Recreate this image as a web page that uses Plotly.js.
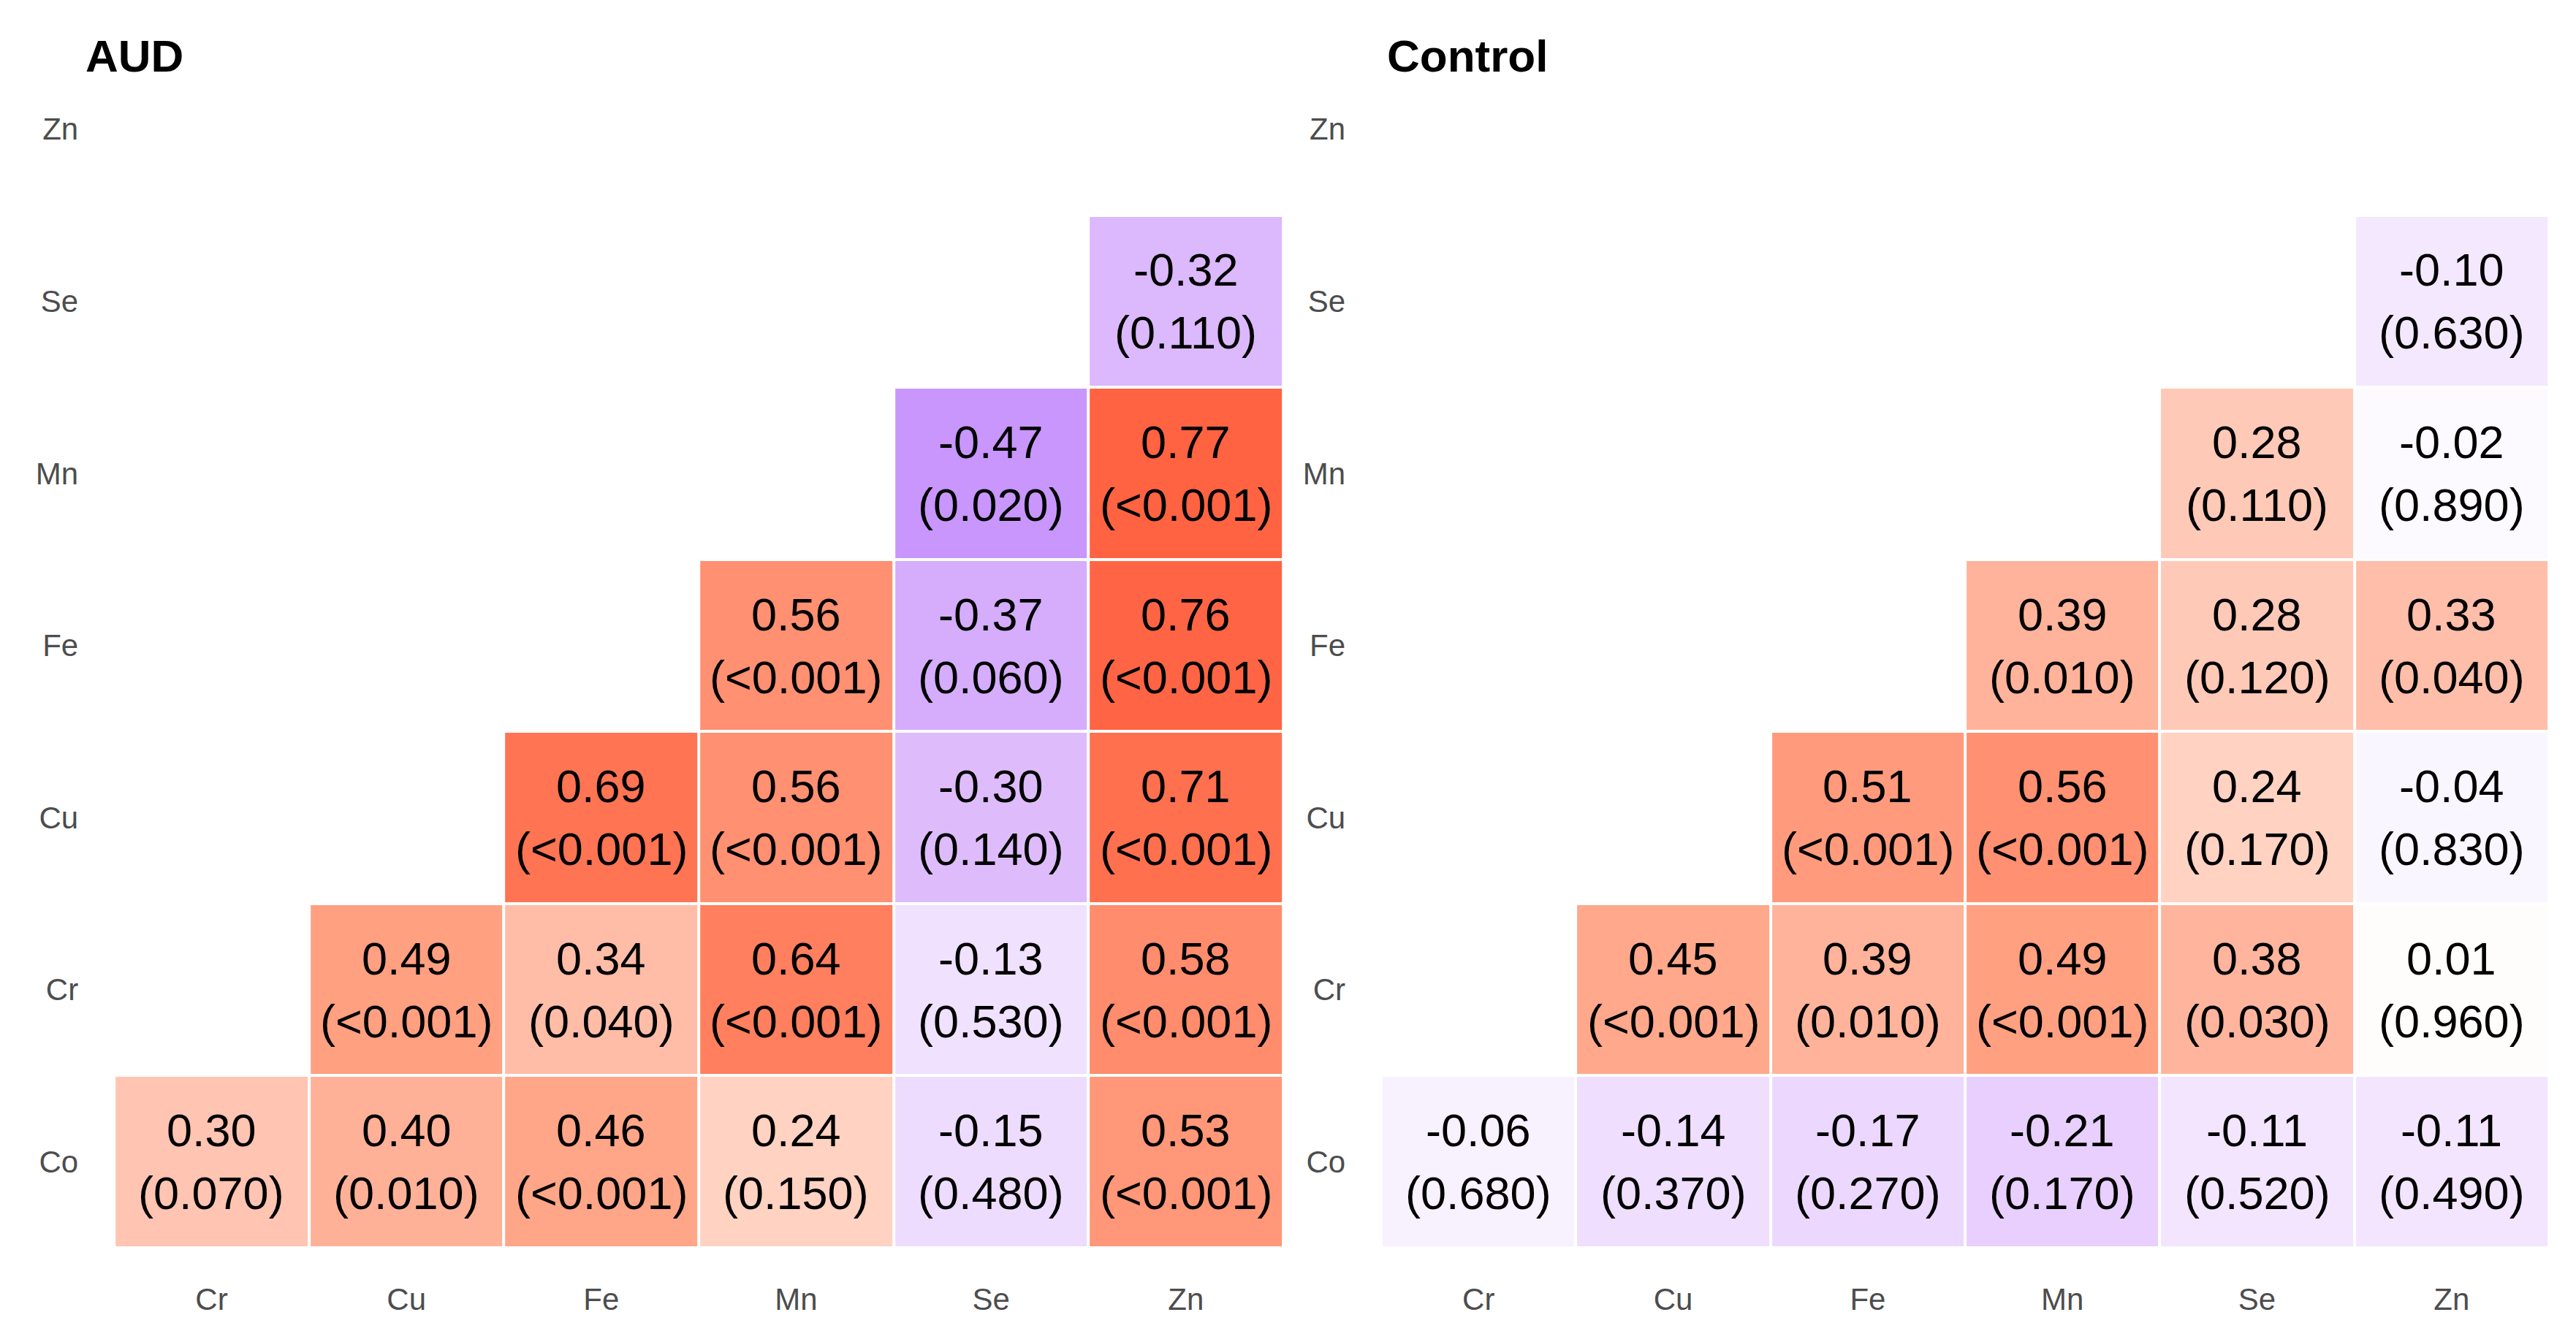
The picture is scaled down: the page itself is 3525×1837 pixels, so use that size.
<!DOCTYPE html>
<html>
<head>
<meta charset="utf-8">
<script src="https://cdn.plot.ly/plotly-3.0.1.min.js"></script>
<style>
  html, body { margin: 0; padding: 0; background: #ffffff; }
  #chart { width: 3525px; height: 1837px; }
</style>
</head>
<body>
<div id="chart"></div>
<script>
// ---- Data ----
const colLabels = ['Cr', 'Cu', 'Fe', 'Mn', 'Se', 'Zn'];
const rowLabels = ['Co', 'Cr', 'Cu', 'Fe', 'Mn', 'Se', 'Zn'];

const audR = [
  [0.30, 0.40, 0.46, 0.24, -0.15, 0.53],
  [null, 0.49, 0.34, 0.64, -0.13, 0.58],
  [null, null, 0.69, 0.56, -0.30, 0.71],
  [null, null, null, 0.56, -0.37, 0.76],
  [null, null, null, null, -0.47, 0.77],
  [null, null, null, null, null, -0.32],
  [null, null, null, null, null, null]
];
const audP = [
  ['0.070', '0.010', '<0.001', '0.150', '0.480', '<0.001'],
  [null, '<0.001', '0.040', '<0.001', '0.530', '<0.001'],
  [null, null, '<0.001', '<0.001', '0.140', '<0.001'],
  [null, null, null, '<0.001', '0.060', '<0.001'],
  [null, null, null, null, '0.020', '<0.001'],
  [null, null, null, null, null, '0.110'],
  [null, null, null, null, null, null]
];

const ctrlR = [
  [-0.06, -0.14, -0.17, -0.21, -0.11, -0.11],
  [null, 0.45, 0.39, 0.49, 0.38, 0.01],
  [null, null, 0.51, 0.56, 0.24, -0.04],
  [null, null, null, 0.39, 0.28, 0.33],
  [null, null, null, null, 0.28, -0.02],
  [null, null, null, null, null, -0.10],
  [null, null, null, null, null, null]
];
const ctrlP = [
  ['0.680', '0.370', '0.270', '0.170', '0.520', '0.490'],
  [null, '<0.001', '0.010', '<0.001', '0.030', '0.960'],
  [null, null, '<0.001', '<0.001', '0.170', '0.830'],
  [null, null, null, '0.010', '0.120', '0.040'],
  [null, null, null, null, '0.110', '0.890'],
  [null, null, null, null, null, '0.630'],
  [null, null, null, null, null, null]
];

const panelTitles = ['AUD', 'Control'];

// ---- Style ----
const FONT = 'Liberation Sans, Arial, sans-serif';
const colorscale = [
  [0.000, '#8C2CF5'],
  [0.265, '#C896FC'],
  [0.340, '#DCB8FC'],
  [0.425, '#EEDCFE'],
  [0.500, '#FFFFFF'],
  [0.620, '#FFD2C2'],
  [0.650, '#FFC4B2'],
  [0.730, '#FFA688'],
  [0.820, '#FF7F5E'],
  [0.885, '#FF6342'],
  [1.000, '#FF3A10']
];

function heat(z, xa, ya) {
  return {
    type: 'heatmap',
    x: colLabels, y: rowLabels, z: z,
    xaxis: xa, yaxis: ya,
    zmin: -1, zmax: 1,
    colorscale: colorscale,
    showscale: false,
    xgap: 4, ygap: 4,
    hoverongaps: false
  };
}

const annotations = [];
function cellText(R, P, xref, yref) {
  for (let i = 0; i < rowLabels.length; i++) {
    for (let j = 0; j < colLabels.length; j++) {
      if (R[i][j] === null) continue;
      annotations.push({
        xref: xref, yref: yref, x: colLabels[j], y: rowLabels[i],
        text: R[i][j].toFixed(2), showarrow: false,
        xanchor: 'center', yanchor: 'middle', yshift: 43,
        font: { family: FONT, size: 63, color: '#000000' }
      });
      annotations.push({
        xref: xref, yref: yref, x: colLabels[j], y: rowLabels[i],
        text: '(' + P[i][j] + ')', showarrow: false,
        xanchor: 'center', yanchor: 'middle', yshift: -43,
        font: { family: FONT, size: 63, color: '#000000' }
      });
    }
  }
}
cellText(audR, audP, 'x', 'y');
cellText(ctrlR, ctrlP, 'x2', 'y2');

const titleX = [0.0326, 0.538];
panelTitles.forEach((t, k) => {
  annotations.push({
    xref: 'paper', yref: 'paper', x: titleX[k], y: 0.9586,
    xanchor: 'left', yanchor: 'middle', showarrow: false,
    text: '<b>' + t + '</b>',
    font: { family: FONT, size: 62, color: '#000000' }
  });
});

function xAxis(domain, anchor) {
  return {
    domain: domain, anchor: anchor, type: 'category',
    categoryorder: 'array', categoryarray: colLabels,
    showgrid: false, zeroline: false, showline: false, ticks: '',
    ticklabelstandoff: 42,
    tickfont: { family: FONT, size: 42, color: '#4D4D4D' }
  };
}
function yAxis(domain, anchor) {
  return {
    domain: domain, anchor: anchor, type: 'category',
    categoryorder: 'array', categoryarray: rowLabels,
    showgrid: false, zeroline: false, showline: false, ticks: '',
    ticklabelstandoff: 48,
    tickfont: { family: FONT, size: 42, color: '#4D4D4D' }
  };
}

const layout = {
  width: 3525, height: 1837,
  margin: { l: 0, r: 0, t: 0, b: 0 },
  paper_bgcolor: '#ffffff', plot_bgcolor: '#ffffff',
  showlegend: false,
  xaxis: xAxis([0.0443, 0.4982], 'y'),
  yaxis: yAxis([0.0702, 0.9679], 'x'),
  xaxis2: xAxis([0.5362, 0.9895], 'y2'),
  yaxis2: yAxis([0.0702, 0.9679], 'x2'),
  annotations: annotations
};

Plotly.newPlot('chart', [heat(audR, 'x', 'y'), heat(ctrlR, 'x2', 'y2')], layout,
  { displayModeBar: false, staticPlot: true });
</script>
</body>
</html>
